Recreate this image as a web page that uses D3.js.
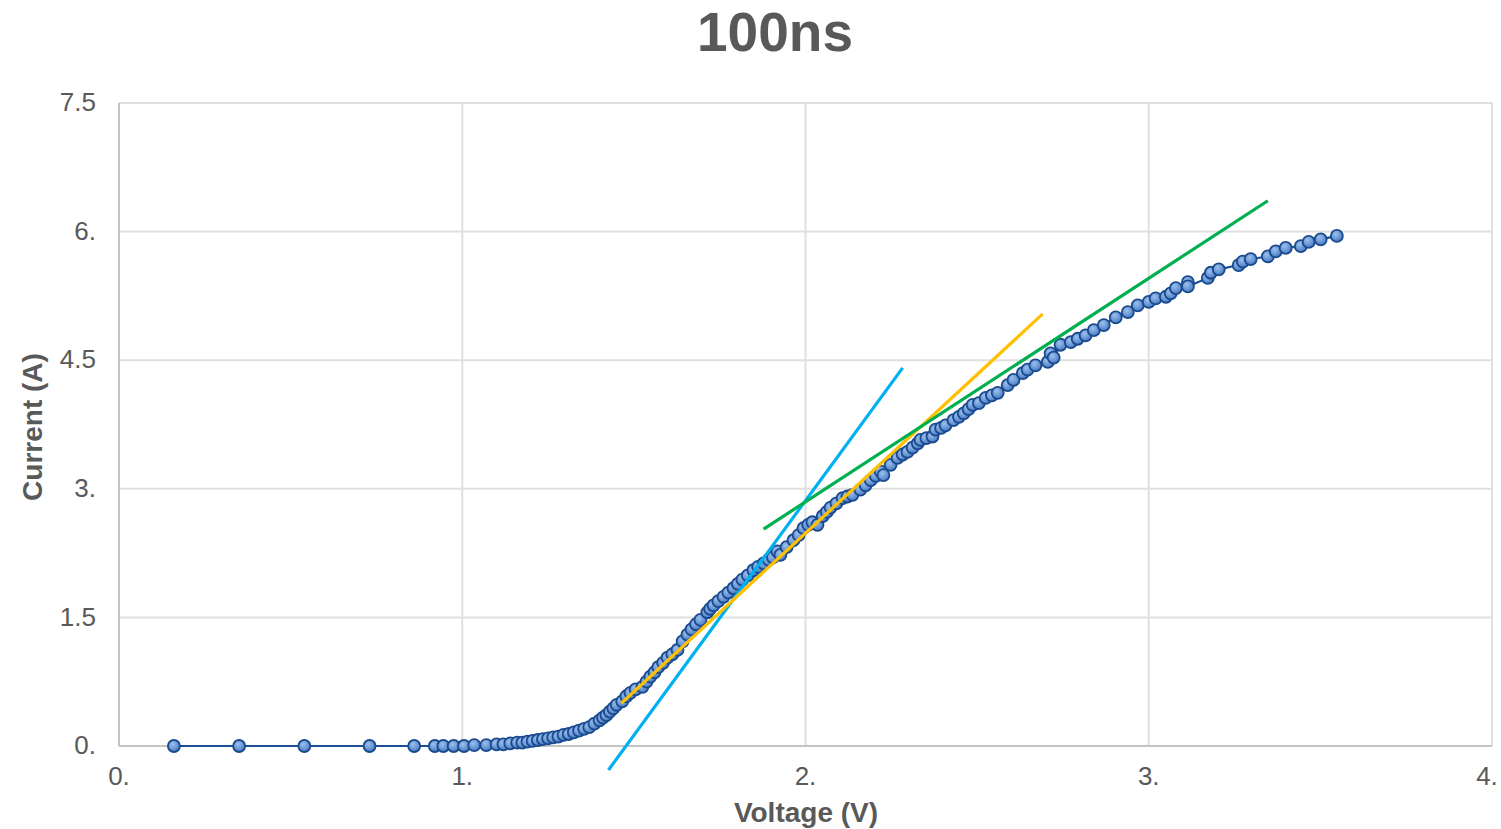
<!DOCTYPE html>
<html>
<head>
<meta charset="utf-8">
<script src="https://cdn.jsdelivr.net/npm/d3@7"></script>
<style>
  html, body { margin: 0; padding: 0; background: #fff; }
  svg { display: block; font-family: "Liberation Sans", Arial, Helvetica, sans-serif; }
</style>
</head>
<body>
<div id="chart"></div>
<script>
// measured pulse I-V, 100ns
const voltage = [
  0.16, 0.35, 0.54, 0.73, 0.86, 0.92, 0.945, 0.975, 1.005, 1.035,
  1.07, 1.10, 1.12, 1.14, 1.16, 1.175, 1.19, 1.205, 1.22, 1.235,
  1.25, 1.265, 1.28, 1.295, 1.31, 1.325, 1.34, 1.355, 1.37, 1.385,
  1.40, 1.41, 1.42, 1.43, 1.44, 1.45, 1.466, 1.478, 1.49, 1.505,
  1.525, 1.537, 1.548, 1.56, 1.571, 1.585, 1.598, 1.612, 1.627, 1.642,
  1.656, 1.668, 1.681, 1.694, 1.714, 1.722, 1.732, 1.746, 1.761, 1.775,
  1.79, 1.803, 1.816, 1.832, 1.848, 1.862, 1.878, 1.893, 1.905, 1.918,
  1.927, 1.945, 1.965, 1.98, 1.994, 2.008, 2.02, 2.035, 2.05, 2.062,
  2.073, 2.09, 2.108, 2.122, 2.137, 2.16, 2.175, 2.19, 2.205, 2.219,
  2.227, 2.248, 2.268, 2.283, 2.297, 2.312, 2.327, 2.335, 2.352, 2.37,
  2.379, 2.395, 2.408, 2.431, 2.447, 2.461, 2.475, 2.487, 2.505, 2.525,
  2.543, 2.56, 2.589, 2.606, 2.633, 2.647, 2.67, 2.706, 2.714, 2.723,
  2.743, 2.773, 2.793, 2.816, 2.84, 2.869, 2.904, 2.939, 2.968, 3.0,
  3.02, 3.05, 3.064, 3.079, 3.114, 3.114, 3.172, 3.181, 3.204, 3.262,
  3.274, 3.297, 3.347, 3.37, 3.399, 3.443, 3.466, 3.501, 3.548
]
const current = [
  0.0, 0.0, 0.0, 0.0, 0.0, 0.0, 0.0, 0.0, 0.0, 0.01,
  0.01, 0.02, 0.02, 0.03, 0.04, 0.04, 0.05, 0.06, 0.07, 0.08,
  0.09, 0.10, 0.11, 0.13, 0.14, 0.16, 0.18, 0.20, 0.22, 0.26,
  0.30, 0.33, 0.36, 0.40, 0.44, 0.48, 0.52, 0.58, 0.62, 0.66,
  0.69, 0.75, 0.81, 0.86, 0.92, 0.97, 1.03, 1.07, 1.12, 1.22,
  1.30, 1.36, 1.42, 1.47, 1.56, 1.60, 1.64, 1.69, 1.74, 1.79,
  1.84, 1.89, 1.94, 1.99, 2.05, 2.09, 2.13, 2.17, 2.20, 2.27,
  2.23, 2.32, 2.40, 2.46, 2.54, 2.58, 2.61, 2.58, 2.68, 2.73,
  2.78, 2.83, 2.89, 2.91, 2.93, 2.99, 3.04, 3.10, 3.15, 3.20,
  3.16, 3.28, 3.36, 3.40, 3.43, 3.48, 3.53, 3.57, 3.59, 3.61,
  3.69, 3.71, 3.74, 3.80, 3.84, 3.88, 3.93, 3.98, 4.00, 4.06,
  4.09, 4.12, 4.21, 4.27, 4.35, 4.39, 4.44, 4.48, 4.58, 4.53,
  4.68, 4.71, 4.75, 4.79, 4.85, 4.91, 5.00, 5.06, 5.14, 5.18,
  5.22, 5.24, 5.28, 5.34, 5.41, 5.36, 5.46, 5.52, 5.56, 5.61,
  5.65, 5.68, 5.71, 5.77, 5.81, 5.83, 5.88, 5.91, 5.95
]

// linear trend segments: [v0, i0, v1, i1]
const trendNames = ["steep", "mid", "high"]
const trendColors = ["#00b0f0", "#ffc000", "#00b050"]
const trendEnds = [
  [1.426, -0.28, 2.283, 4.41],
  [1.464, 0.50, 2.691, 5.04],
  [1.878, 2.53, 3.347, 6.36]
]

const xTicks = [0, 1, 2, 3, 4]
const xTickLabels = ["0.", "1.", "2.", "3.", "4."]
const yTicks = [0, 1.5, 3, 4.5, 6, 7.5]
const yTickLabels = ["0.", "1.5", "3.", "4.5", "6.", "7.5"]

const width = 1501
const height = 829
const margin = { top: 103, right: 9, bottom: 83, left: 119 }

const svg = d3.select("#chart").append("svg")
  .attr("width", width)
  .attr("height", height)

const x = d3.scaleLinear().domain([0, 4]).range([margin.left, width - margin.right])
const y = d3.scaleLinear().domain([0, 7.5]).range([height - margin.bottom, margin.top])

const defs = svg.append("defs")
const grad = defs.append("radialGradient").attr("id", "dot").attr("cx", "40%").attr("cy", "35%").attr("r", "65%")
grad.append("stop").attr("offset", "0%").attr("stop-color", "#9cc0ee")
grad.append("stop").attr("offset", "100%").attr("stop-color", "#4a7cc4")

// grid
svg.append("g")
  .selectAll("line")
  .data(yTicks.slice(1))
  .join("line")
  .attr("x1", x(0)).attr("x2", x(4))
  .attr("y1", d => y(d)).attr("y2", d => y(d))
  .attr("stroke", "#e0e0e0").attr("stroke-width", 2)

svg.append("g")
  .selectAll("line")
  .data(xTicks.slice(1))
  .join("line")
  .attr("x1", d => x(d)).attr("x2", d => x(d))
  .attr("y1", y(0)).attr("y2", y(7.5))
  .attr("stroke", "#e0e0e0").attr("stroke-width", 2)

// axis lines
svg.append("line")
  .attr("x1", x(0)).attr("x2", x(0)).attr("y1", y(0)).attr("y2", y(7.5))
  .attr("stroke", "#c4c4c4").attr("stroke-width", 2)
svg.append("line")
  .attr("x1", x(0)).attr("x2", x(4)).attr("y1", y(0)).attr("y2", y(0))
  .attr("stroke", "#c4c4c4").attr("stroke-width", 2)

// tick labels
svg.append("g")
  .selectAll("text")
  .data(yTicks)
  .join("text")
  .attr("x", 96)
  .attr("y", d => y(d) - 1)
  .attr("dy", "0.35em")
  .attr("text-anchor", "end")
  .attr("font-size", 26)
  .attr("fill", "#595959")
  .text((d, i) => yTickLabels[i])

svg.append("g")
  .selectAll("text")
  .data(xTicks)
  .join("text")
  .attr("x", d => Math.min(x(d), width - 14))
  .attr("y", 785)
  .attr("text-anchor", "middle")
  .attr("font-size", 26)
  .attr("fill", "#595959")
  .text((d, i) => xTickLabels[i])

// data line + markers
const pts = voltage.map((v, i) => [v, current[i]])

svg.append("path")
  .datum(pts)
  .attr("fill", "none")
  .attr("stroke", "#1b4f96")
  .attr("stroke-width", 2.2)
  .attr("d", d3.line().x(d => x(d[0])).y(d => y(d[1])))

svg.append("g")
  .selectAll("circle")
  .data(pts)
  .join("circle")
  .attr("cx", d => x(d[0]))
  .attr("cy", d => y(d[1]))
  .attr("r", 6)
  .attr("fill", "url(#dot)")
  .attr("stroke", "#1a4a8e")
  .attr("stroke-width", 1.8)

// trend lines
svg.append("g")
  .selectAll("line")
  .data(trendEnds)
  .join("line")
  .attr("class", (d, i) => trendNames[i])
  .attr("x1", d => x(d[0])).attr("y1", d => y(d[1]))
  .attr("x2", d => x(d[2])).attr("y2", d => y(d[3]))
  .attr("stroke", (d, i) => trendColors[i])
  .attr("stroke-width", 3.2)

// titles
svg.append("text")
  .attr("x", 775).attr("y", 51)
  .attr("text-anchor", "middle")
  .attr("font-size", 55).attr("font-weight", "bold")
  .attr("fill", "#595959")
  .text("100ns")

svg.append("text")
  .attr("x", 806).attr("y", 822)
  .attr("text-anchor", "middle")
  .attr("font-size", 28).attr("font-weight", "bold")
  .attr("fill", "#595959")
  .text("Voltage (V)")

svg.append("text")
  .attr("transform", "translate(42,427) rotate(-90)")
  .attr("text-anchor", "middle")
  .attr("font-size", 28).attr("font-weight", "bold")
  .attr("fill", "#595959")
  .text("Current (A)")
</script>
</body>
</html>
